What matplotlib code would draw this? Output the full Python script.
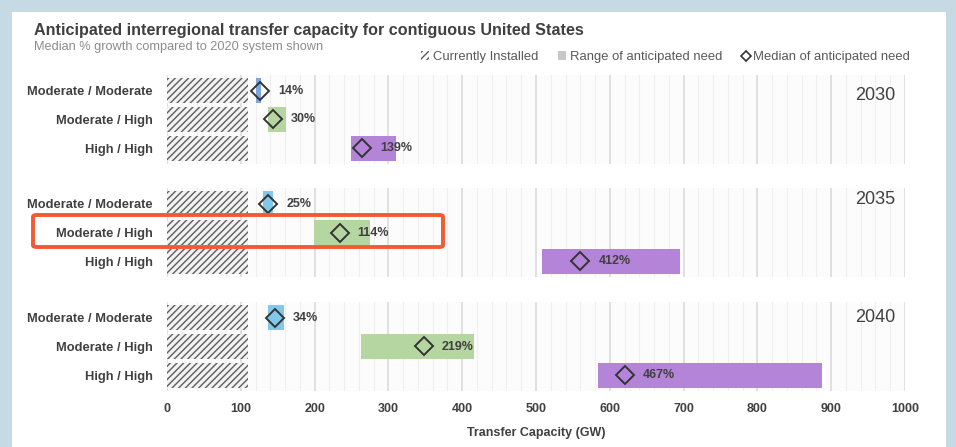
import numpy as np
import matplotlib.pyplot as plt
from matplotlib.patches import Patch, Rectangle, FancyBboxPatch
from matplotlib.lines import Line2D

plt.rcParams['font.family'] = ['Liberation Sans', 'DejaVu Sans']
plt.rcParams['hatch.color'] = '#5e5e5e'
plt.rcParams['hatch.linewidth'] = 1.0

# --- data (GW) ---
years = ['2030', '2035', '2040']
scenarios = ['Moderate / Moderate', 'Moderate / High', 'High / High']
installed = 110
range_low = [[120, 137, 249], [130, 199, 508], [137, 263, 584]]
range_high = [[128, 161, 310], [144, 275, 695], [158, 416, 887]]
median = [[126, 143, 264], [137, 234, 560], [146, 348, 620]]
growth = [[14, 30, 139], [25, 114, 412], [34, 219, 467]]

colors = [['#7ba7e0', '#b5d6a0', '#b384d8'],
          ['#82c8ea', '#b5d6a0', '#b384d8'],
          ['#82c8ea', '#b5d6a0', '#b384d8']]

W, H = 956, 447
fig = plt.figure(figsize=(W / 100, H / 100), dpi=100)
fig.patch.set_facecolor('#c6dae3')
fig.patches.append(Rectangle((12 / W, 0), 934 / W, 435 / H, transform=fig.transFigure,
                             facecolor='white', edgecolor='none', zorder=-5))

left, right = 167 / W, 905 / W
panel_tops = [75, 188, 302]
panel_h = 89
year_offset = [20, 12, 16]  # px below panel top

axes = []
for k, yr in enumerate(years):
    top = panel_tops[k]
    ax = fig.add_axes([left, 1 - (top + panel_h) / H, right - left, panel_h / H])
    ax.set_facecolor('#fcfcfc')
    y = np.arange(3)
    ax.barh(y, installed, height=0.86, color='#f2f2f2', hatch='/////',
            edgecolor='#5e5e5e', linewidth=0, zorder=2)
    lo = np.array(range_low[k])
    hi = np.array(range_high[k])
    ax.barh(y, hi - lo, left=lo, height=0.86, color=colors[k], zorder=2)
    ax.plot(median[k], y, linestyle='none', marker='D', markersize=9.5,
            markerfacecolor='none', markeredgecolor='#333333', markeredgewidth=1.4, zorder=3)
    for j in range(3):
        ax.annotate(f'{growth[k][j]}%', (median[k][j], j), xytext=(13, 0),
                    textcoords='offset points', va='center', ha='left',
                    fontsize=9, fontweight='bold', color='#404040', zorder=4)
    ax.set_xlim(0, 1000)
    ax.set_ylim(2.55, -0.55)
    ax.set_yticks(y)
    ax.set_yticklabels(scenarios, fontsize=9.3, fontweight='bold', color='#404040')
    ax.set_xticks(np.arange(0, 1001, 100))
    ax.set_xticks(np.arange(0, 1001, 20), minor=True)
    ax.grid(axis='x', which='major', color='#dddddd', linewidth=1.3, zorder=0)
    ax.grid(axis='x', which='minor', color='#efefef', linewidth=0.8, zorder=0)
    ax.set_axisbelow(True)
    ax.tick_params(length=0, which='both', pad=10)
    for s in ax.spines.values():
        s.set_visible(False)
    fig.text(895 / W, 1 - (top + year_offset[k]) / H, yr, ha='right', va='center',
             fontsize=13, color='#404040')
    if k < 2:
        ax.tick_params(axis='x', labelbottom=False)
    axes.append(ax)

axes[-1].tick_params(axis='x', labelsize=9, labelcolor='#404040', pad=9)
for t in axes[-1].get_xticklabels():
    t.set_fontweight('bold')
axes[-1].set_xlabel('Transfer Capacity (GW)', fontsize=9, fontweight='bold',
                    color='#404040', labelpad=8)

fig.text(34 / W, 1 - 30 / H, 'Anticipated interregional transfer capacity for contiguous United States',
         fontsize=11.6, fontweight='bold', color='#404040', va='center')
fig.text(34 / W, 1 - 47 / H, 'Median % growth compared to 2020 system shown',
         fontsize=9.2, color='#8c8c8c', va='center')

handles = [Patch(facecolor='white', hatch='/////', edgecolor='#5e5e5e', linewidth=0,
                 label='Currently Installed'),
           Patch(facecolor='#c8c8c8', edgecolor='none', label='Range of anticipated need'),
           Line2D([], [], linestyle='none', marker='D', markersize=5, markerfacecolor='none',
                  markeredgecolor='#333333', markeredgewidth=1.2, label='Median of anticipated need')]
fig.legend(handles=handles, loc='center right', bbox_to_anchor=(922 / W, 1 - 57 / H), ncol=3,
           frameon=False, fontsize=9.4, labelcolor='#595959', handlelength=0.6, handleheight=0.6,
           handletextpad=0.3, columnspacing=1.5)

fig.patches.append(FancyBboxPatch((33 / W, 1 - 247 / H), 410 / W, 32 / H,
                                  boxstyle='round,pad=0,rounding_size=0.004',
                                  transform=fig.transFigure, facecolor='none',
                                  edgecolor='#f45a30', linewidth=2.8, zorder=10))

fig.savefig('out.png', dpi=100, facecolor=fig.get_facecolor())
